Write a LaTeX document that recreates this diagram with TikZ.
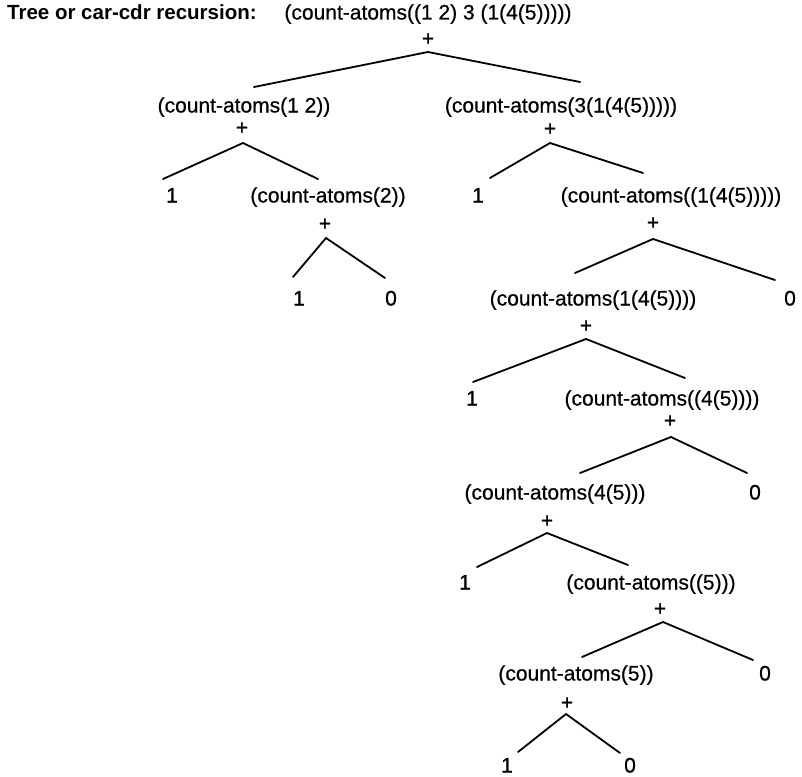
\documentclass[tikz,border=0pt]{standalone}
\usepackage{fontspec}
\setmainfont{Liberation Sans}
\newfontfamily\scanfont[FakeBold=0.6]{Liberation Sans}
\begin{document}
\begin{tikzpicture}[x=1pt,y=-1pt,
  lbl/.style={anchor=base,inner sep=0pt,font=\scanfont\fontsize{21}{25}\selectfont},
  ttl/.style={anchor=base west,inner sep=0pt,font=\fontsize{20.5}{25}\selectfont\bfseries},
  edge/.style={line width=1.8pt,line cap=round}]
\useasboundingbox (0,0) rectangle (802,776);
% title row
\node[ttl] (title) at (7,19.5) {Tree or car-cdr recursion:};
\node[lbl] (t0) at (428,19.5) {(count-atoms((1 2) 3 (1(4(5)))))};
\node[lbl] (p0) at (428,45.5) {+};
\coordinate (a0) at (428,52); \coordinate (l0) at (254,87); \coordinate (r0) at (580,82);
% row 1
\node[lbl] (n1) at (244,112.5) {(count-atoms(1 2))};
\node[lbl] (p1) at (242,134.5) {+};
\coordinate (a1) at (243,143); \coordinate (l1) at (163,179); \coordinate (r1) at (318,179);
\node[lbl] (n2) at (561,112.5) {(count-atoms(3(1(4(5)))))};
\node[lbl] (p2) at (550,135.5) {+};
\coordinate (a2) at (550,143); \coordinate (l2) at (490,178); \coordinate (r2) at (643,173);
% row 2
\node[lbl] (n3) at (172,202.5) {1};
\node[lbl] (n4) at (328,202.5) {(count-atoms(2))};
\node[lbl] (p4) at (325,230.5) {+};
\coordinate (a4) at (326,238); \coordinate (l4) at (293,277); \coordinate (r4) at (385,278);
\node[lbl] (n5) at (478,202.5) {1};
\node[lbl] (n6) at (671,202.5) {(count-atoms((1(4(5)))))};
\node[lbl] (p6) at (653,229.5) {+};
\coordinate (a6) at (653,239); \coordinate (l6) at (575,273); \coordinate (r6) at (775,280);
% row 3
\node[lbl] (n7) at (299,305.5) {1};
\node[lbl] (n8) at (391,305.5) {0};
\node[lbl] (n9) at (593,305.5) {(count-atoms(1(4(5))))};
\node[lbl] (n10) at (790,305.5) {0};
\node[lbl] (p9) at (586,332.5) {+};
\coordinate (a9) at (586,339); \coordinate (l9) at (473,382); \coordinate (r9) at (685,378);
% row 4
\node[lbl] (n11) at (472,405.5) {1};
\node[lbl] (n12) at (662,405.5) {(count-atoms((4(5))))};
\node[lbl] (p12) at (670,427.5) {+};
\coordinate (a12) at (671,437); \coordinate (l12) at (580,473); \coordinate (r12) at (747,473);
% row 5
\node[lbl] (n13) at (555,499.5) {(count-atoms(4(5)))};
\node[lbl] (n14) at (755,499.5) {0};
\node[lbl] (p13) at (547,527.5) {+};
\coordinate (a13) at (547,533); \coordinate (l13) at (477,567); \coordinate (r13) at (628,565);
% row 6
\node[lbl] (n15) at (465,589.5) {1};
\node[lbl] (n16) at (651,589.5) {(count-atoms((5)))};
\node[lbl] (p16) at (660,615.5) {+};
\coordinate (a16) at (663,622); \coordinate (l16) at (582,657); \coordinate (r16) at (753,660);
% row 7
\node[lbl] (n17) at (576,680.5) {(count-atoms(5))};
\node[lbl] (n18) at (765,680.5) {0};
\node[lbl] (p17) at (567,709.5) {+};
\coordinate (a17) at (566,714); \coordinate (l17) at (518,752); \coordinate (r17) at (620,753);
% row 8
\node[lbl] (n19) at (507,772.5) {1};
\node[lbl] (n20) at (630,772.5) {0};
% edges
\foreach \k in {0,1,2,4,6,9,12,13,16,17}{
  \draw[edge] (l\k) -- (a\k) -- (r\k);
}
\end{tikzpicture}
\end{document}
